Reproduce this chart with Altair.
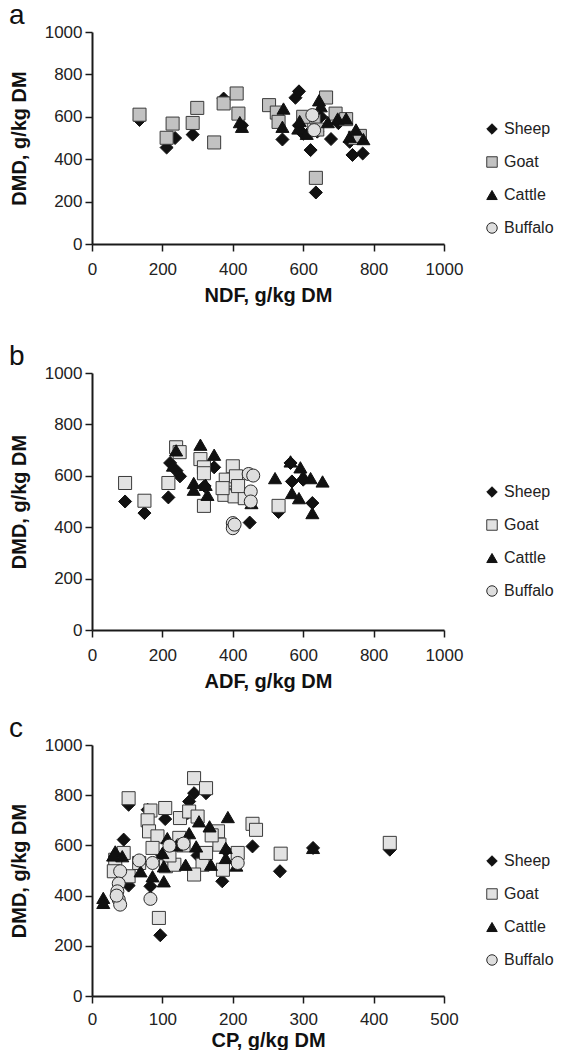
import altair as alt
import pandas as pd

SPECIES = ["Sheep", "Goat", "Cattle", "Buffalo"]

# ---------------- Panel a: NDF vs DMD ----------------
a_sheep_x = [135, 212, 236, 286, 374, 426, 541, 578, 588, 588, 621, 636, 679, 732, 740, 769, 640, 700, 600, 650]
a_sheep_y = [585, 455, 500, 516, 686, 560, 493, 690, 720, 560, 443, 243, 495, 482, 420, 427, 530, 570, 520, 600]
a_goat_x = [135, 229, 212, 299, 286, 347, 374, 411, 416, 503, 525, 530, 665, 692, 722, 747, 761, 636, 630, 640, 600]
a_goat_y = [610, 568, 501, 642, 571, 479, 663, 710, 615, 655, 620, 576, 691, 615, 589, 501, 510, 312, 580, 540, 600]
a_cattle_x = [426, 420, 544, 541, 586, 645, 650, 698, 722, 771, 732, 610, 670, 590, 750]
a_cattle_y = [553, 575, 639, 553, 545, 678, 650, 592, 592, 495, 506, 520, 575, 580, 540]
a_buffalo_x = [626, 631]
a_buffalo_y = [608, 537]

# ---------------- Panel b: ADF vs DMD ----------------
b_sheep_x = [94, 149, 217, 222, 250, 347, 448, 530, 564, 626, 568, 600, 240, 320]
b_sheep_y = [500, 455, 516, 650, 598, 633, 418, 459, 650, 494, 578, 585, 620, 560]
b_goat_x = [94, 149, 217, 239, 249, 308, 318, 318, 318, 400, 380, 409, 376, 405, 434, 371, 530, 415]
b_goat_y = [572, 503, 572, 711, 692, 665, 633, 610, 483, 637, 585, 598, 526, 520, 513, 552, 483, 560]
b_cattle_x = [239, 308, 347, 289, 289, 323, 328, 520, 564, 592, 621, 655, 568, 588, 626, 453, 230, 600]
b_cattle_y = [699, 721, 682, 572, 546, 565, 526, 591, 656, 633, 591, 578, 533, 513, 455, 494, 640, 600]
b_buffalo_x = [445, 458, 451, 451, 400, 400, 405]
b_buffalo_y = [607, 601, 539, 500, 416, 396, 410]

# ---------------- Panel c: CP vs DMD ----------------
c_sheep_x = [52, 45, 79, 104, 138, 145, 162, 228, 267, 185, 97, 314, 423, 52, 83, 136, 100, 150, 190, 35]
c_sheep_y = [762, 623, 742, 705, 775, 808, 808, 596, 497, 457, 242, 590, 583, 440, 437, 729, 560, 560, 580, 540]
c_goat_x = [52, 83, 104, 125, 145, 162, 138, 150, 79, 81, 93, 179, 228, 233, 268, 423, 95, 45, 33, 31,
            52, 67, 86, 105, 117, 157, 145, 186, 207, 162, 181, 124, 110, 170, 130]
c_goat_y = [788, 739, 749, 709, 868, 828, 735, 715, 700, 656, 636, 656, 686, 662, 567, 610, 311, 570, 543, 497,
            477, 530, 590, 517, 523, 523, 484, 503, 570, 570, 603, 630, 560, 640, 600]
c_cattle_x = [16, 16, 33, 43, 86, 102, 102, 100, 107, 138, 152, 167, 193, 133, 169, 190, 190, 314, 69, 148, 30, 120, 205]
c_cattle_y = [391, 371, 576, 557, 477, 457, 517, 570, 629, 649, 696, 676, 713, 523, 523, 590, 550, 590, 497, 596, 560, 600, 520]
c_buffalo_x = [67, 86, 110, 130, 207, 40, 38, 36, 38, 40, 83, 35]
c_buffalo_y = [540, 530, 599, 607, 530, 497, 448, 417, 384, 364, 387, 400]

y_ticks = [0, 200, 400, 600, 800, 1000]
x_ticks_ab = [0, 200, 400, 600, 800, 1000]
x_ticks_c = [0, 100, 200, 300, 400, 500]

FONT = "Liberation Sans"
W = 352


def make_df(sx, sy, gx, gy, cx, cy, bx, by):
    rows = []
    for name, xs, ys in [("Sheep", sx, sy), ("Goat", gx, gy), ("Cattle", cx, cy), ("Buffalo", bx, by)]:
        for xv, yv in zip(xs, ys):
            rows.append({"x": xv, "y": yv, "species": name})
    return pd.DataFrame(rows)


def panel(df, letter, xtitle, xdomain, xticks, height, goat_fill, legend_y, title_y,
          label_pad=10, extra_bottom=0):
    leg = alt.Legend(title=None, orient="none", legendX=392, legendY=legend_y)
    pts = alt.Chart(df).mark_point(filled=True, size=170, strokeWidth=1, opacity=1).encode(
        x=alt.X("x:Q", scale=alt.Scale(domain=xdomain, nice=False),
                axis=alt.Axis(values=xticks, format="d", title=xtitle, titleY=title_y,
                              titleBaseline="alphabetic", labelFlush=False, labelPadding=label_pad)),
        y=alt.Y("y:Q", scale=alt.Scale(domain=[0, 1000], nice=False),
                axis=alt.Axis(values=y_ticks, format="d", title="DMD, g/kg DM", titleX=-73,
                              titleBaseline="middle", labelFlush=False)),
        shape=alt.Shape("species:N", scale=alt.Scale(domain=SPECIES,
                        range=["diamond", "square", "triangle-up", "circle"]), legend=leg),
        fill=alt.Fill("species:N", scale=alt.Scale(domain=SPECIES,
                      range=["#111111", goat_fill, "#111111", "#dedede"]), legend=leg),
        stroke=alt.Stroke("species:N", scale=alt.Scale(domain=SPECIES,
                          range=["#111111", "#3a3a3a", "#111111", "#2a2a2a"]), legend=leg),
    )
    lab = alt.Chart(pd.DataFrame({"t": [letter]})).mark_text(
        align="left", baseline="alphabetic", fontSize=28, font=FONT, color="#111111"
    ).encode(x=alt.value(-83), y=alt.value(-8), text="t:N")
    layers = [pts, lab]
    if extra_bottom:
        pad = alt.Chart(pd.DataFrame({"t": ["."]})).mark_text(
            baseline="bottom", fontSize=10, opacity=0
        ).encode(x=alt.value(0), y=alt.value(height + 60 + extra_bottom), text="t:N")
        layers.append(pad)
    return alt.layer(*layers).properties(width=W, height=height)


pa = panel(make_df(a_sheep_x, a_sheep_y, a_goat_x, a_goat_y, a_cattle_x, a_cattle_y, a_buffalo_x, a_buffalo_y),
           "a", "NDF, g/kg DM", [0, 1000], x_ticks_ab, 212, "#c2c2c2", 89, 57, extra_bottom=15)
pb = panel(make_df(b_sheep_x, b_sheep_y, b_goat_x, b_goat_y, b_cattle_x, b_cattle_y, b_buffalo_x, b_buffalo_y),
           "b", "ADF, g/kg DM", [0, 1000], x_ticks_ab, 257, "#e2e2e2", 111, 57)
pc = panel(make_df(c_sheep_x, c_sheep_y, c_goat_x, c_goat_y, c_cattle_x, c_cattle_y, c_buffalo_x, c_buffalo_y),
           "c", "CP, g/kg DM", [0, 500], x_ticks_c, 251, "#e2e2e2", 108, 50, label_pad=8)

chart = alt.vconcat(pa, pb, pc, spacing=24).resolve_scale(
    x="independent", y="independent", shape="independent", fill="independent", stroke="independent"
).resolve_legend(
    shape="independent", fill="independent", stroke="independent"
).properties(
    padding={"left": 0, "top": -6, "right": 0, "bottom": 0}
).configure_view(stroke=None).configure_axis(
    grid=False, domainColor="#1a1a1a", domainWidth=2, tickColor="#1a1a1a", tickWidth=1.5,
    tickSize=7, labelFont=FONT, labelFontSize=17, labelColor="#222222", labelPadding=3,
    titleFont=FONT, titleFontSize=20, titleFontWeight="bold", titleColor="#111111"
).configure_legend(
    labelFont=FONT, labelFontSize=16, labelColor="#222222", symbolSize=110, rowPadding=17,
    labelOffset=4, padding=0, symbolStrokeWidth=1
)

chart.save("out.html", embed_options={"renderer": "svg", "actions": False})
